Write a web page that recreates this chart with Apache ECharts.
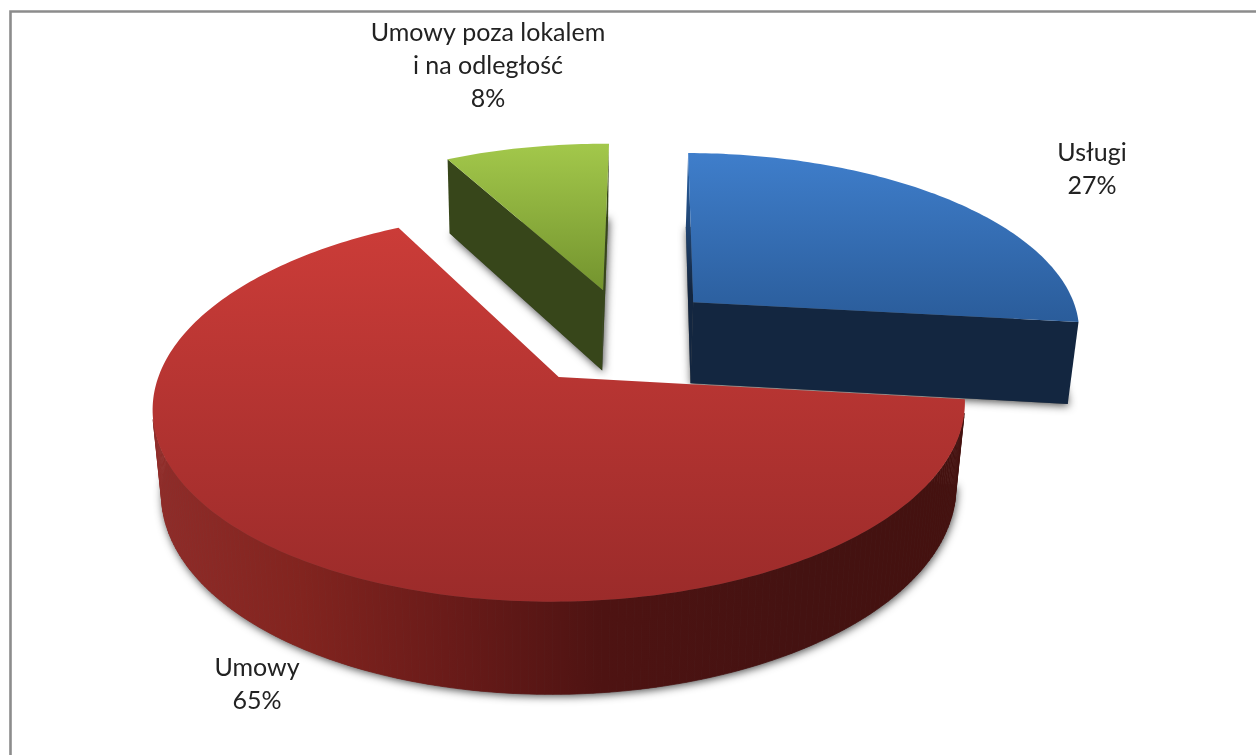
<!DOCTYPE html>
<html>
<head>
<meta charset="utf-8">
<style>html,body{margin:0;padding:0;background:#fff}#c{width:1256px;height:755px}</style>
<script src="https://cdn.jsdelivr.net/npm/echarts@6/dist/echarts.min.js"></script>
</head>
<body>
<div id="c"></div>
<script>
const categories = ['Usługi', 'Umowy', 'Umowy poza lokalem\ni na odległość'];
const values = [26.6, 65.4, 8.0];

const startAngle = 272;          // clockwise from east
const explode = 0.27;
const nudge = [[-0.008, -0.012], [0, 0], [0.02, 0]];
const origin = [0.161, -0.225];  // pie centre in the tilted plane
const cam = {x0: 557, y0: 378, a: 402, b: 191.7, k: 0.148, m: 0.022, d: 86, roll: 0.01};
const labelAt = [[1092, 169], [257, 684], [488, 66]];
const drawOrder = [2, 0, 1];

const topFill = [['#3f7ecb', '#2a5c9a', 153, 323], ['#cb3c38', '#9b2b2a', 227, 603], ['#a3c84b', '#73932e', 143, 292]];
const faceFill = [
  {type: 'linear', x: 0, y: 153, x2: 0, y2: 290, global: true,
   colorStops: [{offset: 0, color: '#2d66ab'}, {offset: 1, color: '#132640'}]},
  '#5a1715', '#37461a'];
const rimFill = [
  [[0, '#1c3f6e'], [1, '#132640']],
  [[0, '#8f2c29'], [0.18, '#82241f'], [0.36, '#6a1b19'], [0.55, '#4e1312'], [0.8, '#441211'], [1, '#44110f']],
  [[0, '#3d4e1b'], [1, '#333f14']]
];
const rimSpan = [[680, 1080], [155, 965], [445, 610]];

function project(u, v, z) {
  const w = 1 - cam.k * v + cam.m * z;
  const X = cam.x0 + cam.a * u / w;
  return [X, cam.y0 + (cam.b * v + cam.d * z) / w - cam.roll * (X - cam.x0)];
}
const total = values.reduce((s, x) => s + x, 0);
const slices = [];
values.reduce((from, val) => {
  const to = from + val / total * 360;
  slices.push([from, to]);
  return to;
}, startAngle);
const rad = d => d * Math.PI / 180;

function area(p) {
  let s = 0;
  p.forEach((q, i) => { const r = p[(i + 1) % p.length]; s += q[0] * r[1] - r[0] * q[1]; });
  return s / 2;
}

function renderItem(params) {
  const i = params.dataIndex === undefined ? 0 : drawOrder[params.dataIndex];
  const [from, to] = slices[i];
  const mid = rad((from + to) / 2);
  const cx = origin[0] + explode * Math.cos(mid) + nudge[i][0];
  const cy = origin[1] + explode * Math.sin(mid) + nudge[i][1];
  const apex = z => project(cx, cy, z);
  const rim = (deg, z) => project(cx + Math.cos(rad(deg)), cy + Math.sin(rad(deg)), z);
  const arc = [];
  for (let t = from; t < to; t += 1) arc.push(t);
  arc.push(to);

  const sector = z => [apex(z)].concat(arc.map(t => rim(t, z)));
  const kids = [];
  // ground shadow
  kids.push({type: 'polygon', shape: {points: sector(1)},
    style: {fill: '#555', shadowBlur: 8, shadowOffsetX: 1, shadowOffsetY: 2, shadowColor: 'rgba(0,0,0,0.7)'}});

  const rimGrad = {type: 'linear', x: rimSpan[i][0], y: 0, x2: rimSpan[i][1], y2: 0, global: true, colorStops:
    rimFill[i].map(s => ({offset: s[0], color: s[1]}))};
  // walls: only those turned towards the viewer
  for (let j = 0; j < arc.length - 1; j++) {
    const q = [rim(arc[j], 0), rim(arc[j + 1], 0), rim(arc[j + 1], 1), rim(arc[j], 1)];
    if (area(q) < 0) {
      kids.push({type: 'polygon', shape: {points: q}, style: {fill: rimGrad, stroke: rimGrad, lineWidth: 0.7}});
    }
  }
  const f1 = [apex(0), rim(from, 0), rim(from, 1), apex(1)];
  const f2 = [rim(to, 0), apex(0), apex(1), rim(to, 1)];
  [f1, f2].forEach(q => {
    if (area(q) < 0) kids.push({type: 'polygon', shape: {points: q}, style: {fill: faceFill[i]}});
  });
  // top surface
  const tf = topFill[i];
  kids.push({type: 'polygon', shape: {points: sector(0)}, style: {fill: {type: 'linear', x: 0, y: tf[2], x2: 0, y2: tf[3], global: true,
    colorStops: [{offset: 0, color: tf[0]}, {offset: 1, color: tf[1]}]}}});
  // label
  kids.push({type: 'text', x: labelAt[i][0], y: labelAt[i][1], style: {
    text: categories[i] + '\n' + Math.round(values[i] / total * 100) + '%',
    font: '25px Lato', lineHeight: 33, fill: '#222', align: 'center', verticalAlign: 'middle'}});
  return {type: 'group', children: kids};
}

const chart = echarts.init(document.getElementById('c'), null, {renderer: 'canvas'});
chart.setOption({
  backgroundColor: '#fff',
  animation: false,
  graphic: [{type: 'rect', z: -1, shape: {x: 10.5, y: 11.5, width: 2000, height: 2000},
    style: {fill: '#fff', stroke: '#8c8c8c', lineWidth: 2.6}}],
  series: [{
    type: 'custom',
    coordinateSystem: 'none',
    renderItem: renderItem,
    data: drawOrder.map(i => ({name: categories[i], value: values[i]})),
    silent: true
  }]
});
</script>
</body>
</html>
